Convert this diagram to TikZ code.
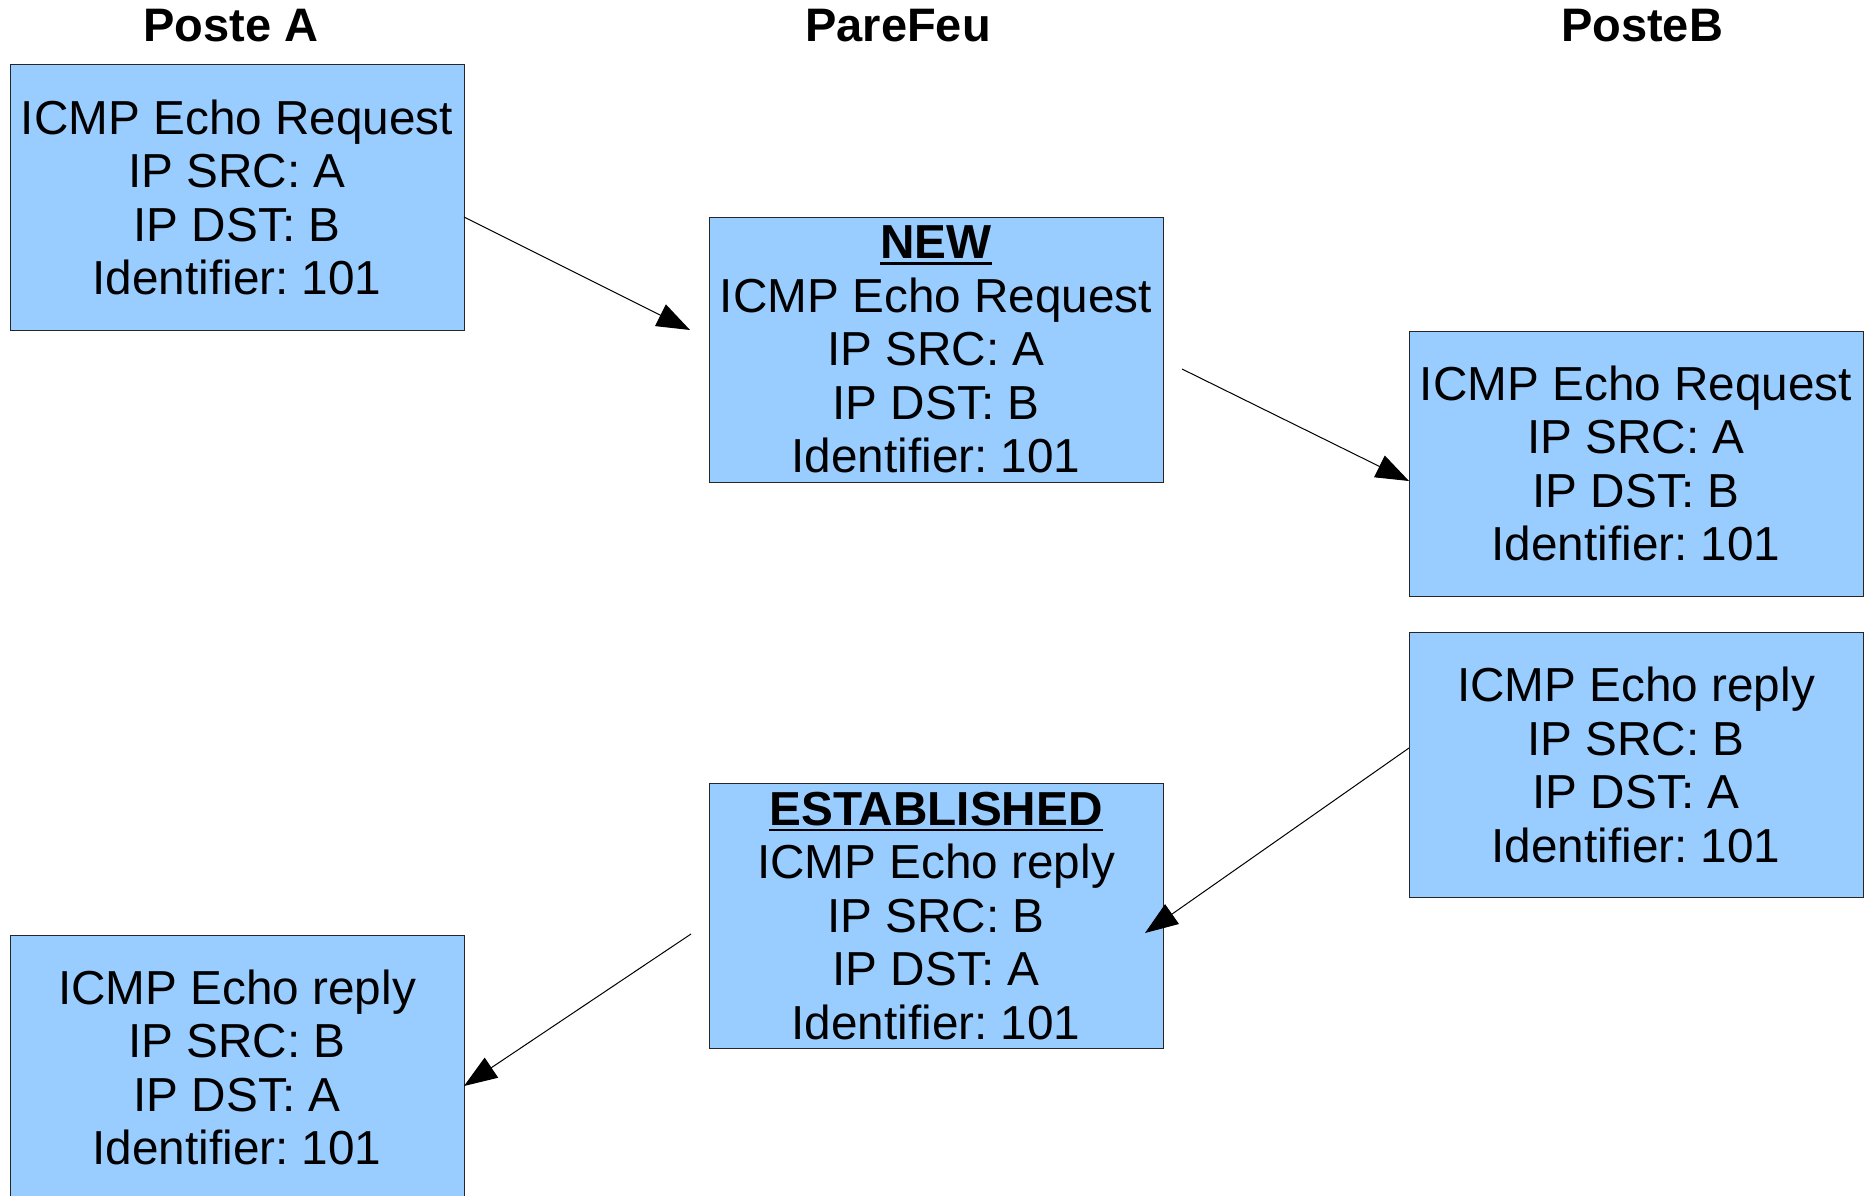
\documentclass[tikz,border=0pt]{standalone}
\usepackage{fontspec}
\setmainfont{Liberation Sans}
\usetikzlibrary{arrows.meta}
\frenchspacing
\newcommand\hdrul[1]{\setbox0\hbox{#1}\rlap{\rule[-6pt]{\wd0}{2.6pt}}\box0}
\tikzset{
  pkt/.style={draw=black!85, line width=1pt, fill=boxblue, minimum width=454pt, minimum height=265pt,
    inner sep=0pt, align=center, font=\fontsize{47.7}{53.5}\selectfont\frenchspacing},
  hdr/.style={anchor=base, inner sep=0pt, font=\fontsize{47}{53}\selectfont\bfseries},
  flow/.style={line width=1pt, draw=black, -{Triangle[length=33pt,width=24pt]}}
}
\definecolor{boxblue}{HTML}{99CCFF}
\begin{document}
\begin{tikzpicture}[x=1pt,y=-1pt]
\useasboundingbox (0,0) rectangle (1871,1196);
\begin{scope}
\clip (0,0) rectangle (1871,1196);
\node[hdr] (hA) at (231,42) {Poste A};
\node[hdr] (hF) at (898,42) {PareFeu};
\node[hdr] (hB) at (1642,42) {PosteB};

\node[pkt] (A1) at (237,197.5) {ICMP Echo Request\\IP SRC: A\\IP DST: B\\Identifier: 101};
\node[pkt] (F1) at (936,349.5) {\hdrul{\textbf{NEW}}\\ICMP Echo Request\\IP SRC: A\\IP DST: B\\Identifier: 101};
\node[pkt] (B1) at (1636,463.5) {ICMP Echo Request\\IP SRC: A\\IP DST: B\\Identifier: 101};
\node[pkt] (B2) at (1636,765) {ICMP Echo reply\\IP SRC: B\\IP DST: A\\Identifier: 101};
\node[pkt] (F2) at (936,916) {\hdrul{\textbf{ESTABLISHED}}\\ICMP Echo reply\\IP SRC: B\\IP DST: A\\Identifier: 101};
\node[pkt] (A2) at (237,1067.5) {ICMP Echo reply\\IP SRC: B\\IP DST: A\\Identifier: 101};

\coordinate (s1) at (464,217);
\coordinate (e1) at (690,330);
\coordinate (s2) at (1182,369);
\coordinate (e2) at (1409,481);
\coordinate (s3) at (1409,748);
\coordinate (e3) at (1145,933);
\coordinate (s4) at (691,934);
\coordinate (e4) at (464,1086);

\draw[flow] (s1) -- (e1);
\draw[flow] (s2) -- (e2);
\draw[flow] (s3) -- (e3);
\draw[flow] (s4) -- (e4);
\end{scope}
\end{tikzpicture}
\end{document}
